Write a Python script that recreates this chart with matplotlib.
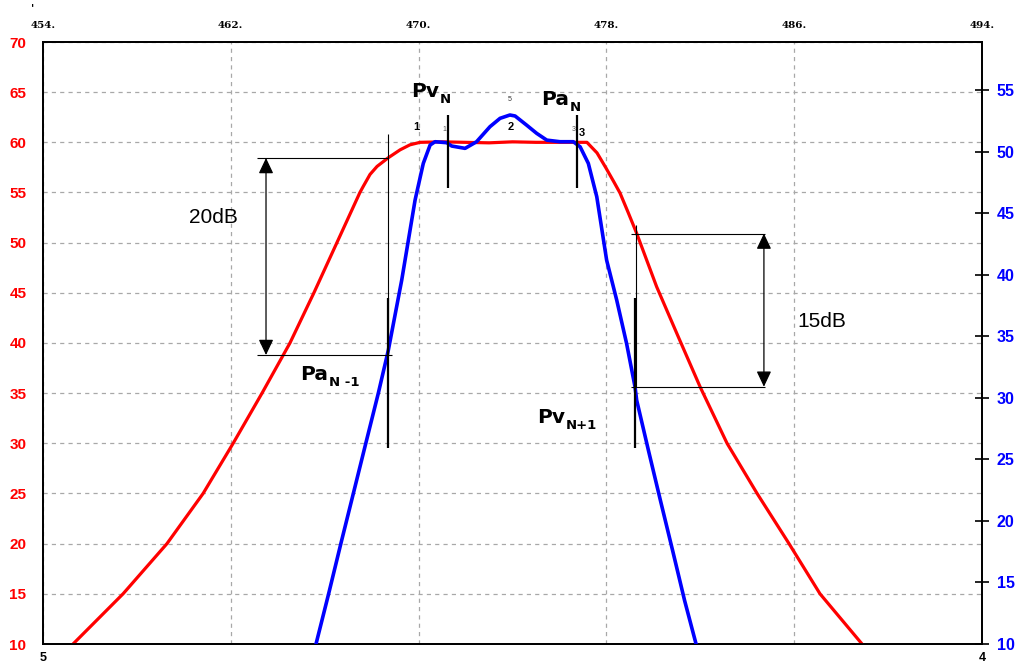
import matplotlib
matplotlib.use("Agg")
import matplotlib.pyplot as plt

plt.rcParams['lines.scale_dashes'] = False

# Frequency axis (MHz) and level axes (dB)
top_ticks = [454, 462, 470, 478, 486, 494]
top_labels = ["454.", "462.", "470.", "478.", "486.", "494."]
bottom_ticks = [454, 494]
bottom_labels = ["5", "4"]
left_ticks = list(range(10, 71, 5))
right_ticks = list(range(10, 56, 5))

# Wide response (left scale)
red_freq = [455.28, 457.41, 459.28, 460.82, 462.10, 463.33, 464.52, 465.54,
            466.52, 467.50, 467.64, 467.93, 468.23, 468.70, 469.21, 469.63, 470.06,
            471.00, 472.00, 473.00, 474.00, 475.00, 476.00, 477.17, 477.60,
            477.98, 478.32, 478.58, 478.92, 479.29, 480.14, 481.06, 481.99,
            483.14, 484.42, 485.78, 487.10, 488.89]
red_level = [10.0, 15.0, 20.0, 25.0, 30.0, 35.0, 40.0, 45.0,
             50.0, 55.0, 55.6, 56.8, 57.6, 58.45, 59.25, 59.75, 60.0,
             60.05, 60.0, 59.95, 60.05, 60.0, 60.0, 60.0, 58.95,
             57.45, 56.05, 54.95, 53.05, 50.93, 45.61, 40.63, 35.64,
             30.0, 25.0, 20.0, 15.0, 10.0]

# Narrow response (right scale)
blue_freq = [465.63, 466.16, 466.68, 467.21, 467.74, 468.28, 468.71, 469.28,
             469.85, 470.20, 470.49, 470.70, 471.20, 471.41, 471.98, 472.47,
             473.04, 473.47, 473.89, 474.11, 474.60, 475.03, 475.46, 476.02,
             476.59, 476.88, 477.23, 477.59, 478.01, 478.44, 478.86, 479.22,
             479.29, 479.79, 480.30, 480.82, 481.33, 481.82]
blue_level = [10.0, 14.02, 18.09, 22.15, 26.22, 30.34, 33.86, 39.55,
              46.06, 49.04, 50.53, 50.80, 50.72, 50.45, 50.26, 50.80,
              52.02, 52.70, 52.97, 52.89, 52.15, 51.48, 50.93, 50.80,
              50.80, 50.39, 49.04, 46.33, 41.18, 37.93, 34.41, 30.88,
              29.80, 25.73, 21.67, 17.60, 13.54, 10.0]

# Channel markers
pv_n, pa_n = 471.25, 476.75
pa_n1, pv_n1 = 468.70, 479.24
band20 = (58.44, 38.80)
band15 = (50.91, 35.64)

W, H = 1021, 663
fig = plt.figure(figsize=(W / 100, H / 100), dpi=100)
ax = fig.add_axes([43 / W, 1 - 644 / H, (982 - 43) / W, (644 - 42) / H])
ax.set_xlim(454, 494)
ax.set_ylim(10, 70)
ax2 = ax.twinx()
ax2.set_ylim(10, 58.9)

ax.set_xticks(top_ticks)
ax.set_yticks(left_ticks)
ax.grid(True, color='#a8a8a8', lw=0.9, ls=(0, (3, 3)))
ax.set_axisbelow(True)

ax.plot(red_freq, red_level, color='#ff0000', lw=2.3, solid_joinstyle='round', zorder=3)
ax2.plot(blue_freq, blue_level, color='#0000ff', lw=2.6, solid_joinstyle='round', zorder=3)

# Axis styling
ax.tick_params(axis='x', top=True, bottom=False, labeltop=True, labelbottom=False,
               length=0, pad=9)
ax.set_xticklabels(top_labels, fontfamily='DejaVu Serif', fontweight='bold', fontsize=7.5)
ax.tick_params(axis='y', length=0, pad=12, labelcolor='#ff0000')
for lbl in ax.get_yticklabels():
    lbl.set_fontfamily('Liberation Sans')
    lbl.set_fontweight('bold')
    lbl.set_fontsize(11)

ax2.set_yticks(right_ticks)
ax2.tick_params(axis='y', direction='inout', length=9.4, width=1.2, pad=6,
                labelcolor='#0000ff')
for lbl in ax2.get_yticklabels():
    lbl.set_fontfamily('Liberation Sans')
    lbl.set_fontweight('bold')
    lbl.set_fontsize(11.5)

sec = ax.secondary_xaxis('bottom')
sec.set_xticks(bottom_ticks, labels=bottom_labels)
sec.tick_params(length=0, pad=6)
for lbl in sec.get_xticklabels():
    lbl.set_fontfamily('Liberation Sans')
    lbl.set_fontweight('bold')
    lbl.set_fontsize(9)
sec.spines['bottom'].set_visible(False)

for a in (ax, ax2):
    for s in a.spines.values():
        s.set_color('black')
        s.set_linewidth(1.3)

T = ax.transData


def seg(x0, y0, x1, y1, lw):
    ax2.plot([x0, x1], [y0, y1], color='black', lw=lw, transform=T, zorder=4,
             solid_capstyle='butt')


# Adjacent-channel brackets
seg(pa_n1, 60.83, pa_n1, band20[1], 0.8)
seg(pa_n1, 44.48, pa_n1, 29.53, 1.6)
seg(463.12, band20[0], pa_n1, band20[0], 0.8)
seg(463.12, band20[1], 468.87, band20[1], 0.8)

seg(pv_n1, 51.76, pv_n1, band15[1], 0.8)
seg(pv_n1 - 0.03, 44.48, pv_n1 - 0.03, 29.53, 1.6)
seg(479.05, band15[0], 484.76, band15[0], 0.8)
seg(479.05, band15[1], 484.76, band15[1], 0.8)

# Carrier markers
seg(pv_n, 62.72, pv_n, 55.45, 1.6)
seg(pa_n, 62.72, pa_n, 55.45, 1.6)

arrow_kw = dict(arrowstyle='<|-|>,head_length=0.95,head_width=0.45', color='black',
                lw=0.9, shrinkA=0, shrinkB=0)
ax2.annotate('', xy=(463.50, band20[1]), xytext=(463.50, band20[0]),
             xycoords=T, textcoords=T, arrowprops=arrow_kw, zorder=4)
ax2.annotate('', xy=(484.71, band15[1]), xytext=(484.71, band15[0]),
             xycoords=T, textcoords=T, arrowprops=arrow_kw, zorder=4)

ax2.text(461.28, 52.46, '20dB', transform=T, ha='center', va='center',
         fontfamily='Liberation Sans', fontsize=15)
ax2.text(487.18, 42.19, '15dB', transform=T, ha='center', va='center',
         fontfamily='Liberation Sans', fontsize=15)

renderer = fig.canvas.get_renderer()


def power_label(x, y, main, sub):
    t = ax2.text(x, y, main, transform=T, ha='left', va='baseline', fontsize=14.5,
                 fontweight='bold', fontfamily='DejaVu Sans', zorder=5)
    w = t.get_window_extent(renderer).width * 72 / fig.dpi
    ax2.annotate(sub, xy=(x, y), xycoords=T, xytext=(w + 0.6, -4.2),
                 textcoords='offset points', ha='left', va='baseline', fontsize=9.5,
                 fontweight='bold', fontfamily='DejaVu Sans', zorder=5)


power_label(469.68, 64.52, 'Pv', 'N')
power_label(475.21, 63.72, 'Pa', 'N')
power_label(464.95, 36.31, 'Pa', 'N -1')
power_label(475.03, 32.00, 'Pv', 'N+1')

# Marker numbers
num_kw = dict(transform=T, ha='center', va='center', fontfamily='Liberation Sans', zorder=5)
ax2.text(469.92, 61.50, '1', fontsize=8, fontweight='bold', **num_kw)
ax2.text(471.09, 61.30, '1', fontsize=5, color='#555555', **num_kw)
ax2.text(473.89, 64.22, '5', fontsize=5, color='#333333', **num_kw)
ax2.text(473.94, 61.50, '2', fontsize=8, fontweight='bold', **num_kw)
ax2.text(476.59, 61.30, '3', fontsize=5, color='#555555', **num_kw)
ax2.text(476.95, 60.90, '3', fontsize=8, fontweight='bold', **num_kw)

fig.text(33 / W, 1 - 8 / H, "'", fontsize=8, fontweight='bold', ha='center', va='center')

fig.savefig('out.png', dpi=100)
